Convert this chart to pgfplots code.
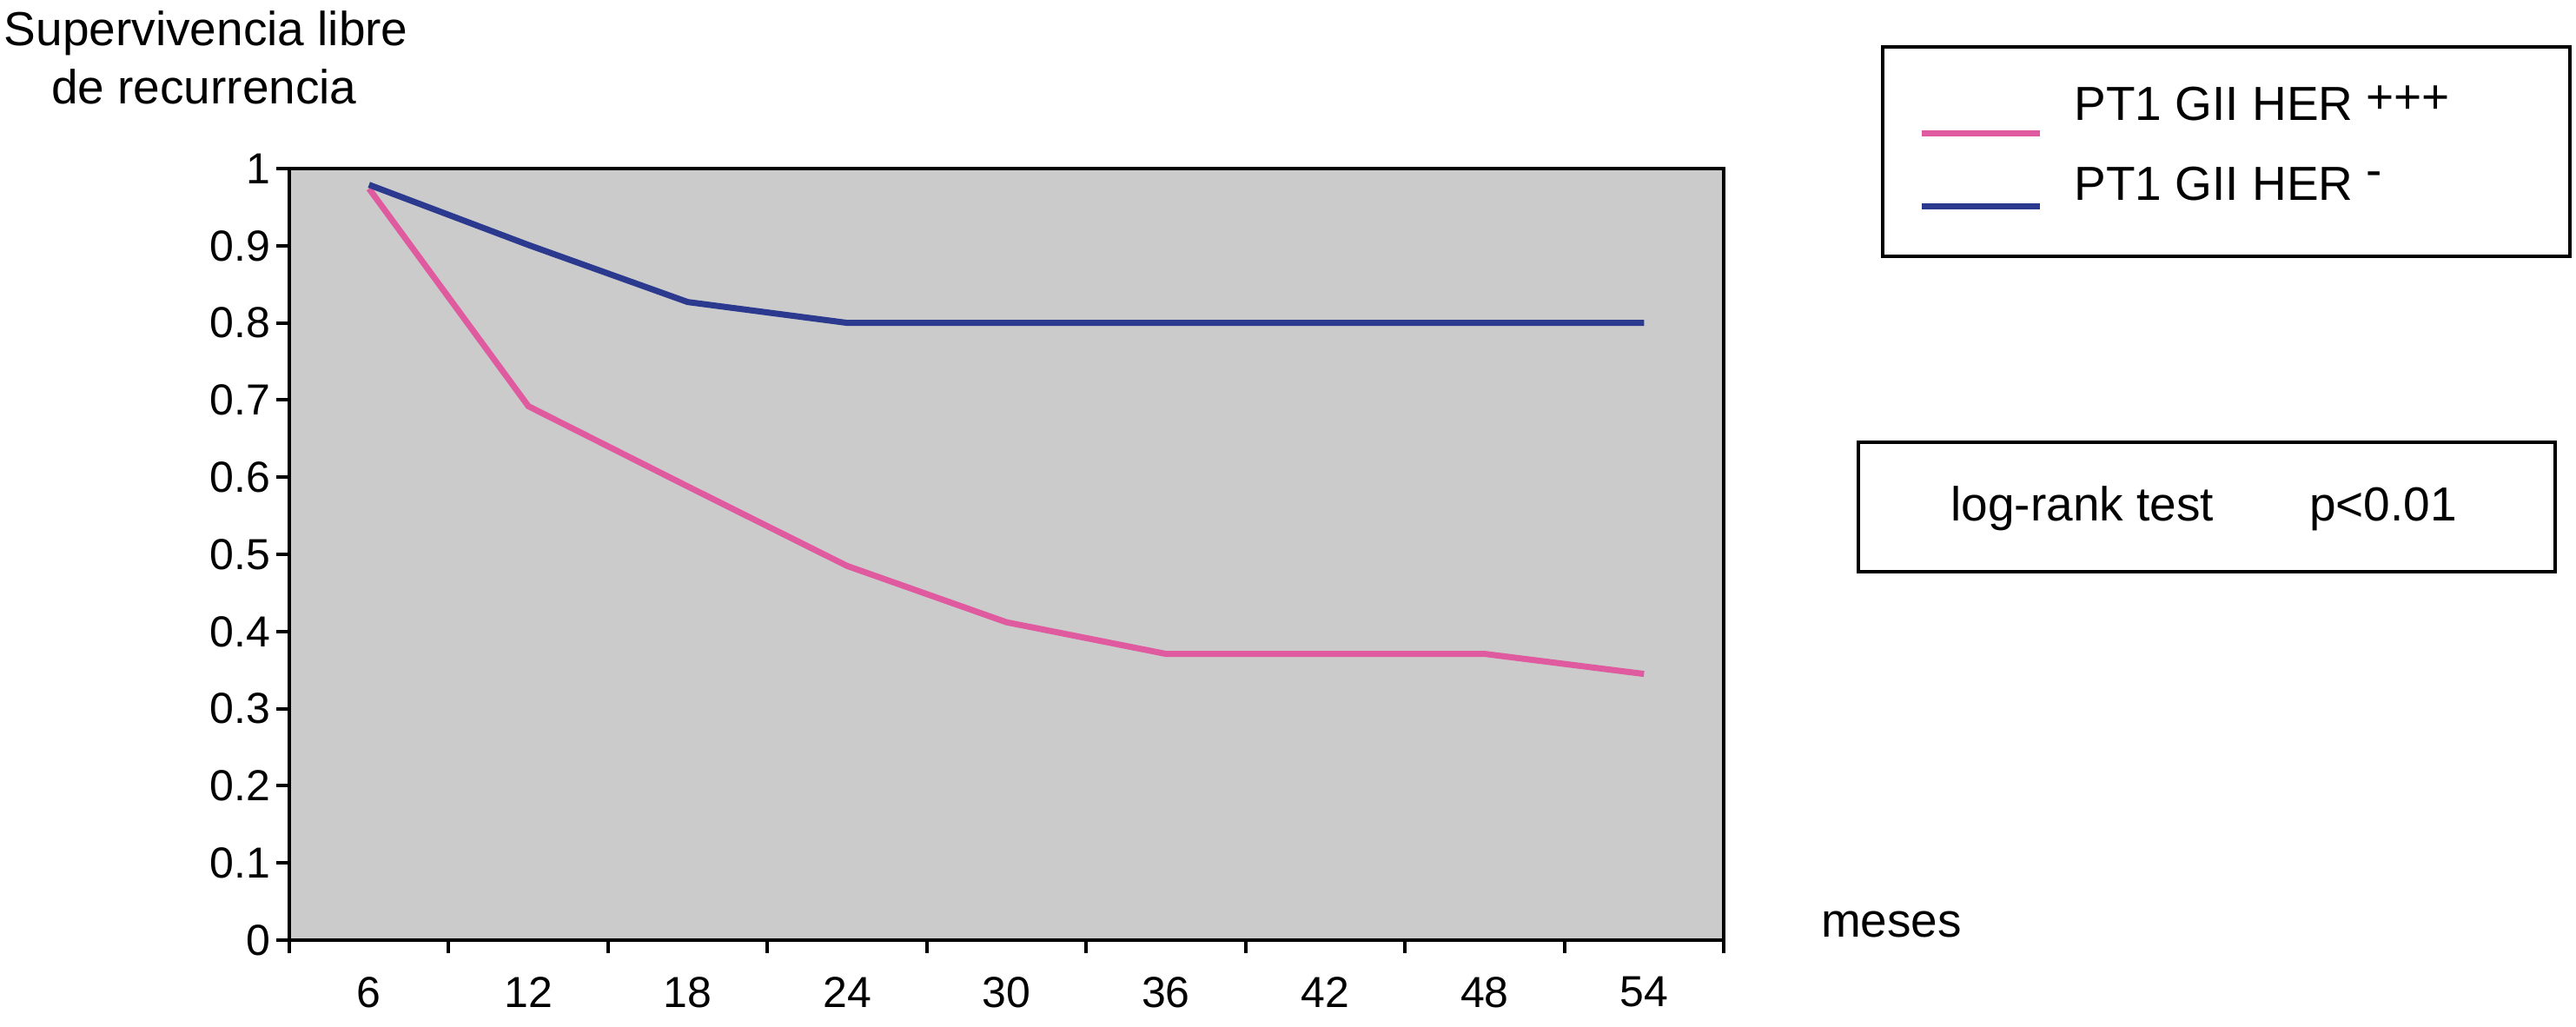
\documentclass[border=0pt]{standalone}
\usepackage{pgfplots}
\pgfplotsset{compat=1.18}
\usepackage{fontspec}
\setmainfont{Liberation Sans}

\definecolor{kmpink}{RGB}{224,90,160}
\definecolor{kmblue}{RGB}{43,58,143}
\definecolor{plotgray}{RGB}{203,203,203}

\begin{document}
\begin{tikzpicture}
\path[use as bounding box] (0,0) rectangle (593pt,236.2pt);

\begin{axis}[
  at={(66.6pt,19.8pt)}, anchor=south west,
  scale only axis, width=330.2pt, height=177.6pt,
  xmin=-0.5, xmax=8.5, ymin=0, ymax=1,
  axis background/.style={fill=plotgray},
  axis line style={line width=0.8pt},
  tick style={line width=0.8pt, black},
  tick pos=left,
  tick align=outside, major tick length=3pt, minor tick length=3pt,
  xtick={0,...,8}, xticklabels={6,12,18,24,30,36,42,48,54},
  major x tick style={draw=none},
  minor xtick={-0.5,0.5,...,8.5},
  ytick={0,0.1,...,1},
  yticklabels={0,0.1,0.2,0.3,0.4,0.5,0.6,0.7,0.8,0.9,1},
  ticklabel style={font=\fontsize{10}{12}\selectfont},
  xticklabel style={yshift=-1.9pt},
  yticklabel style={xshift=2.2pt},
]
% PT1 GII HER+++
\addplot[kmpink, line width=1.4pt] coordinates {
  (0,0.974) (1,0.692) (2,0.588) (3,0.485) (4,0.412)
  (5,0.371) (6,0.371) (7,0.371) (8,0.345)};
% PT1 GII HER-
\addplot[kmblue, line width=1.4pt] coordinates {
  (0,0.979) (1,0.901) (2,0.827) (3,0.800) (4,0.800)
  (5,0.800) (6,0.800) (7,0.800) (8,0.800)};
\end{axis}

\begin{scope}[font=\fontsize{11}{13}\selectfont]
% y label
\node[anchor=base west, inner sep=0pt] at (0.8pt,225.6pt) {Supervivencia libre};
\node[anchor=base west, inner sep=0pt] at (11.6pt,212.2pt) {de recurrencia};
% x label
\node[anchor=base west, inner sep=0pt] at (419pt,20.6pt) {meses};
% legend
\draw[line width=0.8pt] (433.4pt,177.2pt) rectangle (591.6pt,225.4pt);
\draw[kmpink, line width=1.4pt] (442.4pt,205.6pt) -- (469.5pt,205.6pt);
\draw[kmblue, line width=1.4pt] (442.4pt,188.8pt) -- (469.5pt,188.8pt);
\node[anchor=base west, inner sep=0pt] at (477.3pt,208.6pt) {PT1 GII HER \raisebox{1.6pt}{+++}};
\node[anchor=base west, inner sep=0pt] at (477.3pt,190.2pt) {PT1 GII HER \raisebox{3pt}{-}};
% test box
\draw[line width=0.8pt] (427.8pt,104.6pt) rectangle (588.2pt,134.4pt);
\node[anchor=base west, inner sep=0pt] at (448.9pt,116.4pt) {log-rank test};
\node[anchor=base west, inner sep=0pt] at (531.4pt,116.4pt) {p<0.01};
\end{scope}
\end{tikzpicture}
\end{document}
